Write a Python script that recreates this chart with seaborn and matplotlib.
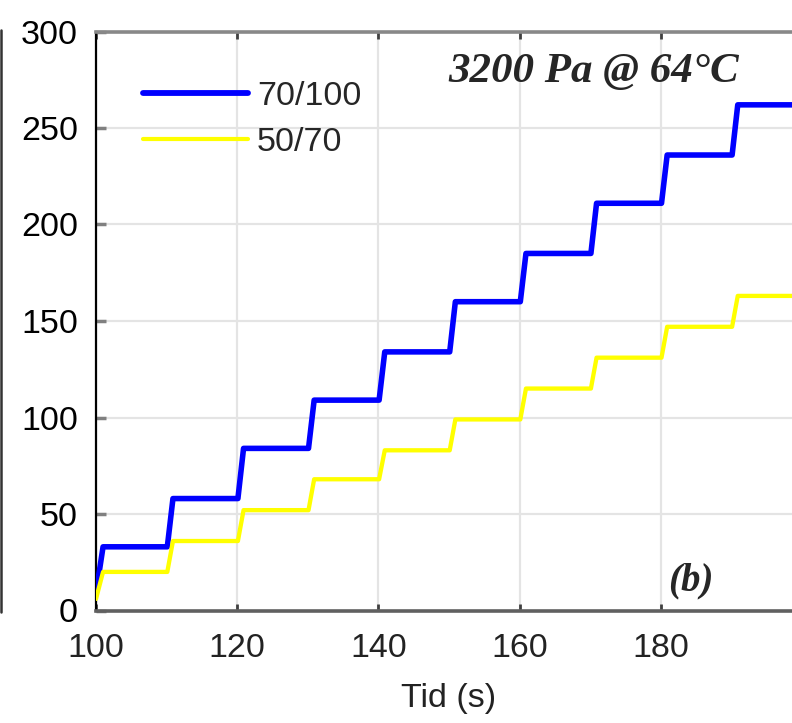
import matplotlib
matplotlib.use("Agg")
import matplotlib.pyplot as plt
import seaborn as sns
import pandas as pd
from matplotlib.lines import Line2D

# ---- data ----
series_names = ["70/100", "50/70"]
series_colors = ["#0000ff", "#ffff00"]

t_70_100 = [100.0, 101.0, 110.1, 110.9, 120.1, 120.9, 130.1, 130.9, 140.1, 140.9,
            150.1, 150.9, 160.1, 160.9, 170.1, 170.9, 180.1, 180.9, 190.1, 190.9, 200.0]
v_70_100 = [9, 33, 33, 58, 58, 84, 84, 109, 109, 134,
            134, 160, 160, 185, 185, 211, 211, 236, 236, 262, 262]

t_50_70 = [100.0, 101.0, 110.1, 110.9, 120.1, 120.9, 130.1, 130.9, 140.1, 140.9,
           150.1, 150.9, 160.1, 160.9, 170.1, 170.9, 180.1, 180.9, 190.1, 190.9, 200.0]
v_50_70 = [6, 20, 20, 36, 36, 52, 52, 68, 68, 83,
           83, 99, 99, 115, 115, 131, 131, 147, 147, 163, 163]

x_ticks = [100, 120, 140, 160, 180]
y_ticks = [0, 50, 100, 150, 200, 250, 300]
x_label = "Tid (s)"
annotation = "3200 Pa @ 64°C"
panel_label = "(b)"

sns.set_style("white")
plt.rcParams["font.family"] = ["Liberation Sans", "DejaVu Sans"]

W, H = 792, 723
fig = plt.figure(figsize=(W / 100, H / 100), dpi=100)
ax_l, ax_r, ax_t, ax_b = 96, 802, 31.5, 610.5
ax = fig.add_axes([ax_l / W, 1 - ax_b / H, (ax_r - ax_l) / W, (ax_b - ax_t) / H])

df1 = pd.DataFrame({"t": t_70_100, "v": v_70_100})
df2 = pd.DataFrame({"t": t_50_70, "v": v_50_70})
sns.lineplot(data=df1, x="t", y="v", ax=ax, color=series_colors[0], linewidth=4.0,
             label=series_names[0], sort=False, estimator=None, zorder=3)
sns.lineplot(data=df2, x="t", y="v", ax=ax, color=series_colors[1], linewidth=3.1,
             label=series_names[1], sort=False, estimator=None, zorder=3)

ax.set_xlim(100, 200)
ax.set_ylim(0, 300)
ax.set_xticks(x_ticks)
ax.set_yticks(y_ticks)
ax.set_axisbelow(True)
ax.grid(True, color="#e4e4e4", linewidth=1.6)

for s in ax.spines.values():
    s.set_visible(True)
ax.spines["left"].set_color("black")
ax.spines["left"].set_linewidth(1.6)
ax.spines["top"].set_color("#888888")
ax.spines["top"].set_linewidth(2.6)
ax.spines["bottom"].set_color("#606060")
ax.spines["bottom"].set_linewidth(2.6)
ax.spines["right"].set_color("#606060")

fs = 24.5
ax.tick_params(axis="x", direction="in", length=5, width=2, color="#404040",
               top=True, bottom=True, labelsize=fs, pad=16, labelcolor="#222222")
ax.tick_params(axis="y", direction="in", length=7, width=2.5, color="#808080",
               left=True, right=False, labelsize=fs, pad=13, labelcolor="black")

ax.set_xlabel(x_label, fontsize=fs, labelpad=14, color="#222222")
ax.set_ylabel("")

ax.text((448 - ax_l) / (ax_r - ax_l), (ax_b - 82) / (ax_b - ax_t), annotation,
        transform=ax.transAxes, ha="left", va="baseline", fontsize=31,
        family="Liberation Serif", fontweight="bold", fontstyle="italic")
ax.text((668 - ax_l) / (ax_r - ax_l), (ax_b - 590) / (ax_b - ax_t), panel_label,
        transform=ax.transAxes, ha="left", va="baseline", fontsize=28,
        family="Liberation Serif", fontweight="bold", fontstyle="italic")

leg = ax.legend(loc="upper left", bbox_to_anchor=((143 - ax_l) / (ax_r - ax_l), (ax_b - 81) / (ax_b - ax_t)),
                frameon=False, fontsize=fs, handlelength=3.1, handletextpad=0.25,
                labelspacing=0.45, borderpad=0, borderaxespad=0)
for h, lw in zip(leg.get_lines(), [4.2, 3.0]):
    h.set_linewidth(lw)

# edge of the neighbouring panel at the left border
fig.add_artist(Line2D([1.2 / W, 1.2 / W], [1 - 30 / H, 1 - 612 / H],
                      transform=fig.transFigure, color="#333333", linewidth=1.8))

fig.savefig("out.png", dpi=100)
